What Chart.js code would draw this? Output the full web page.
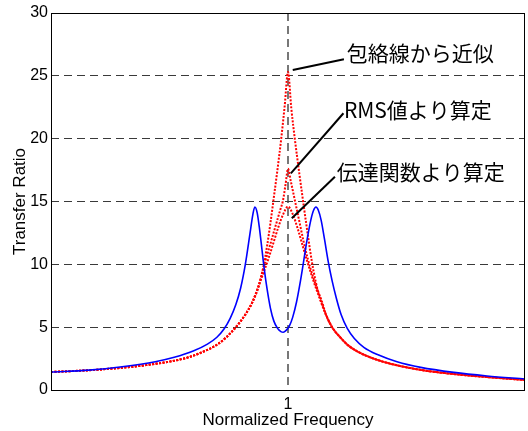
<!DOCTYPE html>
<html>
<head>
<meta charset="utf-8">
<script src="https://cdn.jsdelivr.net/npm/chart.js@4.4.1/dist/chart.umd.min.js"></script>
<style>
  body { margin: 0; background: #fff; }
</style>
</head>
<body>
<canvas id="line-chart" width="528" height="431"></canvas>
<script>
// blue: measured transfer ratio (two peaks)
let freqBlue = [0.50, 0.58, 0.65, 0.72, 0.76, 0.80, 0.83, 0.85, 0.865, 0.878, 0.89, 0.90, 0.91, 0.92, 0.926, 0.930, 0.935, 0.940, 0.945, 0.950, 0.956, 0.963, 0.970, 0.978, 0.985, 0.990, 0.996, 1.003, 1.010, 1.018, 1.025, 1.032, 1.040, 1.048, 1.054, 1.059, 1.064, 1.070, 1.077, 1.085, 1.093, 1.102, 1.112, 1.125, 1.14, 1.16, 1.19, 1.23, 1.28, 1.35, 1.42, 1.50];
let ratioBlue = [1.43, 1.58, 1.85, 2.25, 2.6, 3.1, 3.65, 4.2, 4.85, 5.7, 6.8, 8.1, 10.0, 12.5, 14.0, 14.56, 14.1, 12.8, 11.2, 9.6, 8.0, 6.5, 5.5, 4.9, 4.65, 4.6, 4.75, 5.1, 5.8, 7.0, 8.4, 10.0, 11.9, 13.5, 14.3, 14.56, 14.3, 13.5, 12.0, 10.2, 8.7, 7.3, 6.0, 4.9, 4.1, 3.4, 2.8, 2.25, 1.8, 1.4, 1.12, 0.88];

// red dotted: envelope approximation
let freqEnv = [0.50, 0.60, 0.70, 0.79, 0.83, 0.85, 0.867, 0.89, 0.91, 0.925, 0.938, 0.948, 0.956, 0.963, 0.970, 0.978, 0.986, 0.993, 1.000, 1.007, 1.015, 1.024, 1.033, 1.042, 1.050, 1.058, 1.068, 1.08, 1.093, 1.11, 1.127, 1.145, 1.17, 1.21, 1.28, 1.35, 1.42, 1.50];
let ratioEnv = [1.43, 1.62, 1.98, 2.6, 3.2, 3.6, 4.1, 5.0, 6.0, 7.0, 8.3, 9.8, 11.5, 13.3, 15.3, 17.6, 20.1, 22.6, 25.3, 22.4, 19.8, 17.2, 14.7, 12.3, 10.3, 8.7, 7.2, 6.0, 5.0, 4.2, 3.55, 3.1, 2.65, 2.15, 1.6, 1.27, 1.03, 0.8];

// red dotted: from RMS value
let freqRms = [0.50, 0.60, 0.70, 0.79, 0.83, 0.85, 0.867, 0.89, 0.91, 0.925, 0.938, 0.948, 0.958, 0.968, 0.978, 0.985, 0.989, 0.995, 1.000, 1.006, 1.015, 1.024, 1.033, 1.042, 1.052, 1.062, 1.072, 1.08, 1.093, 1.11, 1.127, 1.145, 1.17, 1.21, 1.28, 1.35, 1.42, 1.50];
let ratioRms = [1.43, 1.62, 1.98, 2.6, 3.2, 3.6, 4.1, 5.0, 6.0, 7.0, 8.2, 9.7, 11.0, 12.3, 13.6, 14.5, 15.0, 16.4, 17.6, 16.6, 15.0, 13.4, 11.8, 10.4, 9.1, 8.0, 7.0, 6.0, 5.0, 4.2, 3.55, 3.1, 2.65, 2.15, 1.6, 1.27, 1.03, 0.8];

// red dotted: from transfer function
let freqTf = [0.50, 0.60, 0.70, 0.79, 0.83, 0.85, 0.867, 0.89, 0.91, 0.925, 0.94, 0.95, 0.96, 0.97, 0.98, 0.99, 1.000, 1.01, 1.02, 1.03, 1.04, 1.05, 1.06, 1.07, 1.08, 1.093, 1.11, 1.127, 1.145, 1.17, 1.21, 1.28, 1.35, 1.42, 1.50];
let ratioTf = [1.43, 1.62, 1.98, 2.6, 3.2, 3.6, 4.1, 5.0, 6.0, 7.0, 8.5, 9.5, 10.6, 11.8, 13.0, 14.0, 14.6, 14.0, 12.9, 11.6, 10.3, 9.1, 8.0, 7.0, 6.0, 5.0, 4.2, 3.55, 3.1, 2.65, 2.15, 1.6, 1.27, 1.03, 0.8];

let yTicks = [0, 5, 10, 15, 20, 25, 30];
let xTicks = [1];

// annotation texts, with leader lines in data units [x1, y1, x2, y2]
let noteTexts = ["包絡線から近似", "RMS値より算定", "伝達関数より算定"];
let noteTextPos = [[1.124, 26.82], [1.118, 22.28], [1.103, 17.37]];
let noteLines = [[1.010, 25.46, 1.118, 26.32], [1.006, 17.24, 1.117, 22.02], [1.008, 13.66, 1.099, 16.97]];

function toPoints(xs, ys) {
    let pts = [];
    for (let i = 0; i < xs.length; i++) {
        pts.push({x: xs[i], y: ys[i]});
    }
    return pts;
}

// box around the plot + leader lines and labels
const framePlugin = {
    id: 'frame',
    afterDraw(chart) {
        const ctx = chart.ctx;
        const a = chart.chartArea;
        const xs = chart.scales.x;
        const ys = chart.scales.y;
        ctx.save();
        ctx.strokeStyle = '#000';
        ctx.lineWidth = 1;
        ctx.strokeRect(Math.round(a.left) + 0.5, Math.round(a.top) + 0.5,
            Math.round(a.right - a.left) - 1, Math.round(a.bottom - a.top));

        ctx.lineWidth = 2;
        for (let l of noteLines) {
            ctx.beginPath();
            ctx.moveTo(xs.getPixelForValue(l[0]), ys.getPixelForValue(l[1]));
            ctx.lineTo(xs.getPixelForValue(l[2]), ys.getPixelForValue(l[3]));
            ctx.stroke();
        }
        ctx.fillStyle = '#000';
        ctx.font = '21px "Noto Sans CJK JP"';
        ctx.textBaseline = 'middle';
        ctx.textAlign = 'left';
        for (let i = 0; i < noteTexts.length; i++) {
            ctx.fillText(noteTexts[i], xs.getPixelForValue(noteTextPos[i][0]), ys.getPixelForValue(noteTextPos[i][1]));
        }
        ctx.restore();
    }
};

function redLine(xs, ys) {
    return {
        data: toPoints(xs, ys),
        borderColor: "#ff0000",
        borderWidth: 2,
        borderDash: [2, 1.5],
        pointRadius: 0,
        cubicInterpolationMode: 'monotone',
        fill: false
    };
}

const ctx = document.getElementById('line-chart');
const myChart = new Chart(ctx,
    {
        type: 'line',
        data:
            {
                datasets:
                    [
                        {
                            data: toPoints(freqBlue, ratioBlue),
                            borderColor: "#0000ff",
                            borderWidth: 1.6,
                            pointRadius: 0,
                            cubicInterpolationMode: 'monotone',
                            fill: false
                        },
                        redLine(freqEnv, ratioEnv),
                        redLine(freqRms, ratioRms),
                        redLine(freqTf, ratioTf),
                    ]
            },
        options:
            {
                responsive: false,
                animation: false,
                devicePixelRatio: 1,
                layout: { padding: { top: 13, right: 3, left: 0, bottom: 0 } },
                plugins: {
                    legend: { display: false },
                    tooltip: { enabled: false }
                },
                scales: {
                    x: {
                        type: 'linear',
                        min: 0.5,
                        max: 1.5,
                        afterBuildTicks: function (scale) {
                            scale.ticks = xTicks.map(function (v) { return {value: v}; });
                        },
                        afterFit: function (scale) { scale.height = 41; },
                        grid: {
                            color: '#777',
                            lineWidth: 2,
                            drawTicks: false
                        },
                        border: { display: false, dash: [8, 5] },
                        ticks: {
                            color: '#000',
                            padding: 5,
                            font: { family: 'Liberation Sans', size: 16 },
                            callback: function (v) { return String(v); }
                        },
                        title: {
                            display: true,
                            text: 'Normalized Frequency',
                            color: '#000',
                            font: { family: 'Liberation Sans', size: 17 },
                            padding: { top: 0, bottom: 0 }
                        }
                    },
                    y: {
                        type: 'linear',
                        min: 0,
                        max: 30,
                        afterBuildTicks: function (scale) {
                            scale.ticks = yTicks.map(function (v) { return {value: v}; });
                        },
                        afterFit: function (scale) { scale.width = 51; },
                        grid: {
                            color: function (c) {
                                if (c.tick && (c.tick.value === 0 || c.tick.value === 30)) return 'rgba(0,0,0,0)';
                                return '#3a3a3a';
                            },
                            lineWidth: 1,
                            drawTicks: false
                        },
                        border: { display: false, dash: [8, 5] },
                        ticks: {
                            color: '#000',
                            padding: 3,
                            font: { family: 'Liberation Sans', size: 16 }
                        },
                        title: {
                            display: true,
                            text: 'Transfer Ratio',
                            color: '#000',
                            font: { family: 'Liberation Sans', size: 17 },
                            padding: { top: 10, bottom: 0 }
                        }
                    }
                }
            },
        plugins: [framePlugin]
    });
</script>
</body>
</html>
